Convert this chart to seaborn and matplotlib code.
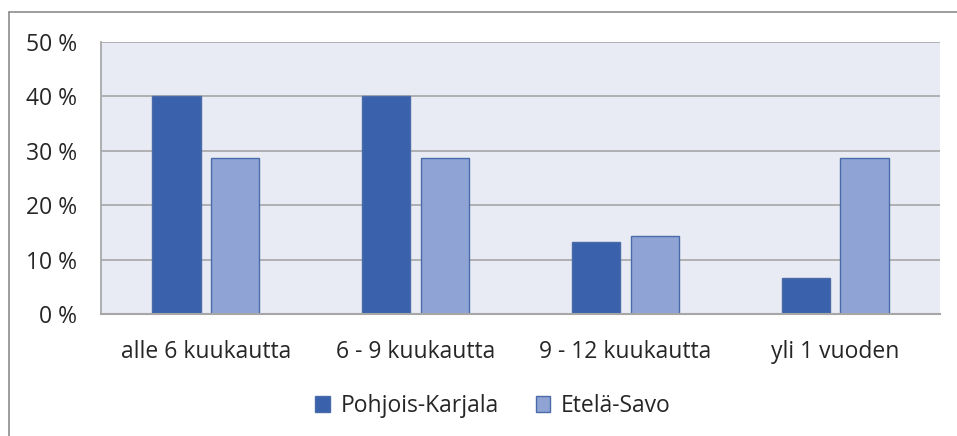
import matplotlib
matplotlib.use("Agg")
import matplotlib.pyplot as plt
import seaborn as sns
import pandas as pd
from matplotlib.lines import Line2D
from matplotlib.ticker import FuncFormatter

categories = ["alle 6 kuukautta", "6 - 9 kuukautta", "9 - 12 kuukautta", "yli 1 vuoden"]
series_names = ["Pohjois-Karjala", "Etelä-Savo"]
pohjois_karjala = [40.0, 40.0, 13.3, 6.7]
etela_savo = [28.6, 28.6, 14.3, 28.6]
yticks = [0, 10, 20, 30, 40, 50]

df = pd.DataFrame({
    "cat": categories * 2,
    "series": [series_names[0]] * 4 + [series_names[1]] * 4,
    "val": pohjois_karjala + etela_savo,
})

sns.set_theme(style="white")
plt.rcParams["font.family"] = ["Open Sans", "DejaVu Sans"]

fig = plt.figure(figsize=(9.57, 4.36), dpi=100)
ax = fig.add_axes([101/957, 1-314/436, (940-101)/957, (314-42)/436])
ax.set_facecolor("#E8EAF4")

palette = {series_names[0]: "#3A62AC", series_names[1]: "#8FA4D4"}
sns.barplot(data=df, x="cat", y="val", hue="series", order=categories,
            hue_order=series_names, palette=palette, width=0.56, gap=0.18,
            edgecolor="#4A6BAA", linewidth=1.0, saturation=1, ax=ax, legend=False)

ax.set_ylim(0, 50)
ax.set_xlim(-0.5, 3.5)
ax.set_yticks(yticks)
ax.yaxis.set_major_formatter(FuncFormatter(lambda v, p: f"{int(v)} %"))
ax.grid(axis="y", color="#A6A6A6", linewidth=1.2)
ax.set_axisbelow(True)
ax.set_xlabel("")
ax.set_ylabel("")
for s in ["top", "right"]:
    ax.spines[s].set_visible(False)
ax.spines["left"].set_color("#A6A6A6")
ax.spines["bottom"].set_color("#A6A6A6")
ax.spines["bottom"].set_linewidth(1.5)
ax.tick_params(axis="both", length=0, labelsize=16.5, colors="#262626")
ax.tick_params(axis="y", pad=17)
ax.tick_params(axis="x", pad=19)

handles = [plt.Rectangle((0, 0), 1, 1, facecolor=palette[n], edgecolor="#4A6BAA") for n in series_names]
fig.legend(handles, series_names, loc="center", bbox_to_anchor=(493/957, 1-406/436),
           ncol=2, frameon=False, fontsize=16.5, handlelength=0.65, handleheight=0.65,
           columnspacing=1.6, handletextpad=0.45, labelcolor="#262626")

# outer chart border (top and left)
fig.add_artist(Line2D([8.5/957, 1.0], [1-12.5/436, 1-12.5/436], color="#8C8C8C", linewidth=1.2, transform=fig.transFigure))
fig.add_artist(Line2D([8.5/957, 8.5/957], [0, 1-12.5/436], color="#8C8C8C", linewidth=1.2, transform=fig.transFigure))

fig.savefig("out.png", dpi=100)
